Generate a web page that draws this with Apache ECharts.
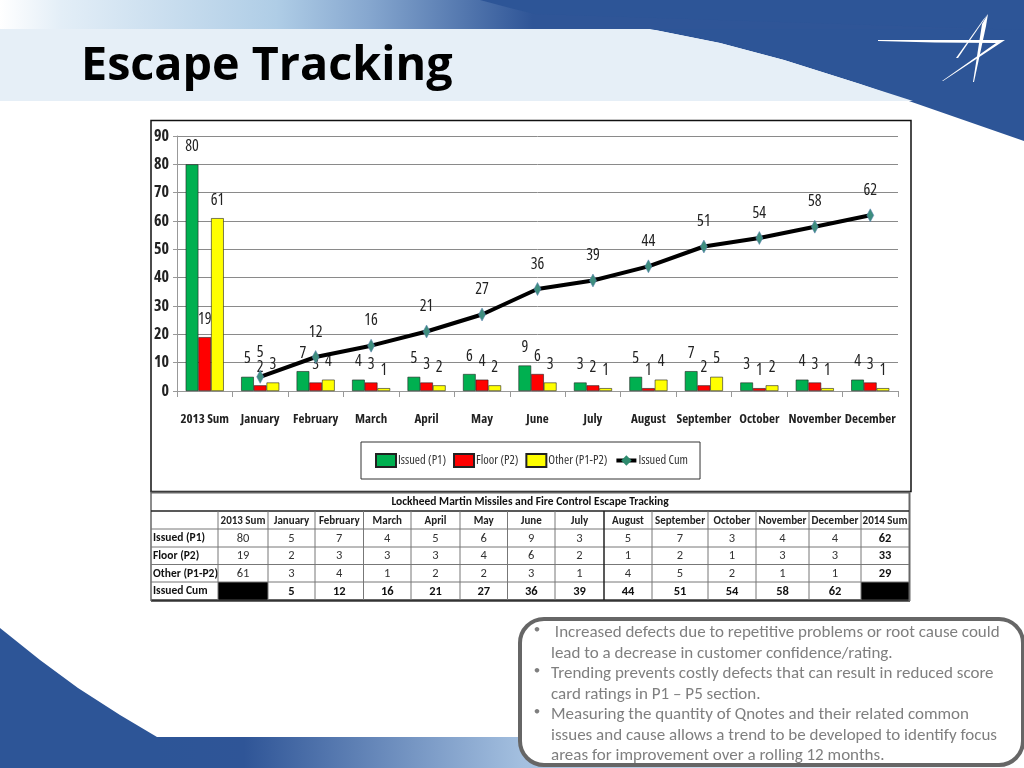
<!DOCTYPE html>
<html><head><meta charset="utf-8">
<style>html,body{margin:0;padding:0;background:#fff}#c{width:1024px;height:768px}</style>
<script src="https://cdn.jsdelivr.net/npm/echarts@6/dist/echarts.min.js"></script>
</head><body><div id="c"></div>
<script>
var categories=['2013 Sum','January','February','March','April','May','June','July','August','September','October','November','December'];
var issued=[80,5,7,4,5,6,9,3,5,7,3,4,4];
var floor=[19,2,3,3,3,4,6,2,1,2,1,3,3];
var other=[61,3,4,1,2,2,3,1,4,5,2,1,1];
var cum=[null,5,12,16,21,27,36,39,44,51,54,58,62];
var sum2014=[62,33,29];
var rowNames=['Issued (P1)','Floor (P2)','Other (P1-P2)','Issued Cum'];
var tableTitle='Lockheed Martin Missiles and Fire Control Escape Tracking';
var bullets=[
 [' Increased defects due to repetitive problems or root cause could','lead to a decrease in customer confidence/rating.'],
 ['Trending prevents costly defects that can result in reduced score','card ratings in P1 – P5 section.'],
 ['Measuring the quantity of Qnotes and their related common','issues and cause allows a trend to be developed to identify focus','areas for improvement over a rolling 12 months.']
];
var NARROW='"Open Sans",sans-serif';
var CAL='Carlito,Lato,sans-serif';
var colX=[152,218,268,315,363.5,411,460,507.5,555,604,652,708,756,809,861,909];
var rowY=[511,529,547,564.5,582,600];
var g=[];
function rect(x,y,w,h,fill,z){g.push({type:'rect',silent:true,z:z,shape:{x:x,y:y,width:w,height:h},style:{fill:fill}});}
function line(x1,y1,x2,y2,c,w,z){g.push({type:'line',silent:true,z:z,shape:{x1:x1,y1:y1,x2:x2,y2:y2},style:{stroke:c,lineWidth:w}});}
function txt(s,x,y,font,fill,align,z){g.push({type:'text',silent:true,z:z,x:x,y:y,style:{text:s,font:font,fill:fill,align:align||'center',verticalAlign:'middle'}});}
function grad(stops){return {type:'linear',x:0,y:0,x2:1,y2:0,colorStops:stops};}
// top band
g.push({type:'rect',silent:true,z:-10,shape:{x:0,y:0,width:1024,height:30},style:{fill:grad([{offset:0,color:'#ffffff'},{offset:0.06,color:'#e3eef7'},{offset:0.27,color:'#afcde6'},{offset:0.36,color:'#86a7cf'},{offset:0.52,color:'#2f5597'},{offset:1,color:'#2f5597'}])}});
// blue right wedge
g.push({type:'polygon',silent:true,z:-9,shape:{points:[[640,29],[1024,29],[1024,141],[860,84],[784,60],[720,43],[650,29]]},style:{fill:'#2D5597'}});
g.push({type:'polygon',silent:true,z:-9,shape:{points:[[480,0],[1024,0],[1024,30],[535,14],[510,8]]},style:{fill:'#2D5597'}});
// light title band
g.push({type:'polygon',silent:true,z:-8,shape:{points:[[0,29],[650,29],[720,43],[784,60],[860,84],[913,101],[0,101]]},style:{fill:'#E6EFF7'}});
// logo
g.push({type:'polygon',silent:true,z:-7,shape:{points:[[878,40],[1005,40],[943,81],[942,81],[996,43],[935,42.5],[878,41]]},style:{fill:'#ffffff'}});
g.push({type:'polygon',silent:true,z:-7,shape:{points:[[988,14],[958,58],[956,58],[983,20]]},style:{fill:'#ffffff'}});
g.push({type:'polygon',silent:true,z:-7,shape:{points:[[988,14],[986,26],[974,82],[973,82],[982,24]]},style:{fill:'#ffffff'}});
// lower left and bottom band
g.push({type:'polygon',silent:true,z:-9,shape:{points:[[0,628],[40,660],[78,688],[120,715],[157,737],[157,768],[0,768]]},style:{fill:'#2D5597'}});
g.push({type:'rect',silent:true,z:-9,shape:{x:157,y:737,width:867,height:31},style:{fill:grad([{offset:0,color:'#2D5597'},{offset:0.1,color:'#2f5597'},{offset:0.42,color:'#a3bfdf'},{offset:1,color:'#ffffff'}])}});
// title
txt('Escape Tracking',81,67,'bold 46.7px "Open Sans",sans-serif','#000000','left',5);
// chart frame
g.push({type:'rect',silent:true,z:-5,shape:{x:151,y:120.5,width:760,height:371},style:{fill:'#fff',stroke:'#111',lineWidth:1.5}});
// table
rect(151,492,759,109,'#ffffff',-4);
rect(218,582,50,18,'#000',-3);
rect(861,582,48,18,'#000',-3);
line(151,492.5,910,492.5,'#666',2,-2);
line(151,600.5,910,600.5,'#333',2.5,-2);
line(151,492,151,601,'#666',1.5,-2);
line(909.5,492,909.5,601,'#666',2,-2);
rowY.slice(0,5).forEach(function(y,i){line(151,y,909,y,i===0?'#222':'#777',i===0?1.5:1,-2);});
colX.slice(1,15).forEach(function(x){line(x,511,x,600,x===604?'#222':'#777',x===604?1.5:1,-2);});
var TF='bold 12.5px '+CAL,TN='12.5px '+CAL,TH='bold 11.5px '+CAL,TC='bold 11px '+CAL;
txt(tableTitle,530,502.5,TH,'#111','center',6);
categories.forEach(function(c,i){txt(c,(colX[i+1]+colX[i+2])/2,521,TC,'#222','center',6);});
txt('2014 Sum',885,521,TC,'#222','center',6);
var rows=[issued,floor,other,cum];
rows.forEach(function(r,ri){
  var cy=(rowY[ri+1]+rowY[ri+2])/2+0.5;
  txt(rowNames[ri],153,cy,TH,'#111','left',6);
  r.forEach(function(v,i){ if(v!==null) txt(String(v),(colX[i+1]+colX[i+2])/2,cy,ri===3?TF:TN,ri===3?'#111':'#333','center',6);});
  if(ri<3) txt(String(sum2014[ri]),885,cy,TF,'#111','center',6);
});
// notes box
g.push({type:'rect',silent:true,z:4,shape:{x:520,y:619,width:503,height:146,r:24},style:{fill:'#ffffff',stroke:'#666666',lineWidth:4}});
var ly=[633,654,674,694.5,715,736,756],k=0;
bullets.forEach(function(b){
  txt('•',537,ly[k]-3,'13px '+CAL,'#7f7f7f','center',6);
  b.forEach(function(s){txt(s,551,ly[k],'17px '+CAL,'#7f7f7f','left',6);k++;});
});
var labelBase={show:true,position:'top',distance:10,fontFamily:NARROW,fontStyle:'condensed',fontSize:16,color:'#222'};
function bar(name,data,color){return {name:name,type:'bar',data:data,barWidth:12.7,barGap:0,z:3,
  itemStyle:{color:color,borderColor:'#222',borderWidth:0.6},label:labelBase};}
var option={animation:false,backgroundColor:'transparent',
 graphic:{elements:g},
 legend:{left:361,top:442,padding:[11,12,11,14],itemWidth:20,itemHeight:13,itemGap:7,backgroundColor:'#fff',borderColor:'#333',borderWidth:1,
  lineStyle:{width:4,color:'#000'},
  textStyle:{fontFamily:NARROW,fontStyle:'condensed',fontSize:12.5,color:'#333',padding:[0,0,0,-3]},
  data:[{name:'Issued (P1)',icon:'rect'},{name:'Floor (P2)',icon:'rect'},{name:'Other (P1-P2)',icon:'rect'},{name:'Issued Cum',itemStyle:{color:'#2E8B6E',borderWidth:0}}]},
 grid:{left:177,top:136,width:721,height:255,containLabel:false},
 xAxis:{type:'category',data:categories,boundaryGap:true,
  axisLine:{lineStyle:{color:'#999'}},axisTick:{show:true,length:6,lineStyle:{color:'#999'},alignWithLabel:false},
  axisLabel:{interval:0,margin:22,fontFamily:NARROW,fontStyle:'condensed',fontWeight:'bold',fontSize:13,color:'#222'},splitLine:{show:false}},
 yAxis:{type:'value',min:0,max:90,interval:10,
  axisLine:{show:true,lineStyle:{color:'#999'}},axisTick:{show:true,length:4,lineStyle:{color:'#999'}},
  axisLabel:{margin:8,fontFamily:NARROW,fontStyle:'condensed',fontWeight:'bold',fontSize:16,color:'#222'},
  splitLine:{lineStyle:{color:'#8a8a8a',width:1}}},
 series:[bar('Issued (P1)',issued,'#00B050'),bar('Floor (P2)',floor,'#FF0000'),bar('Other (P1-P2)',other,'#FFFF00'),
  {name:'Issued Cum',type:'line',data:cum,z:5,symbol:'diamond',symbolSize:[7,13],
   lineStyle:{color:'#000',width:4},itemStyle:{color:'#3E8E7E',borderColor:'#5B7FB5',borderWidth:0.5},
   label:{show:true,position:'top',distance:10,fontFamily:NARROW,fontStyle:'condensed',fontSize:16,color:'#222'}}]
};
var chart=echarts.init(document.getElementById('c'),null,{width:1024,height:768});
chart.setOption(option);
</script></body></html>
